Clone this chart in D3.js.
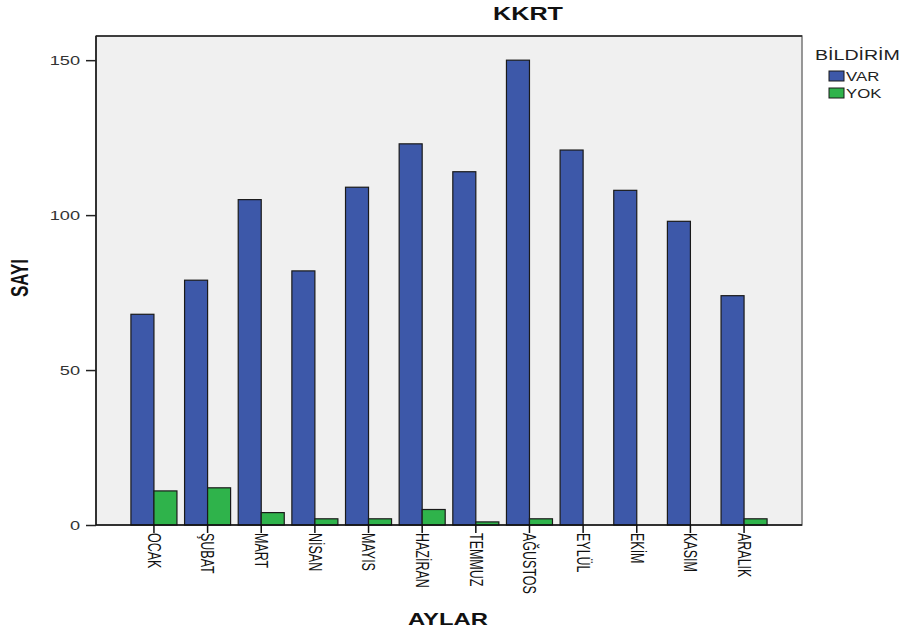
<!DOCTYPE html>
<html>
<head>
<meta charset="utf-8">
<script src="https://cdn.jsdelivr.net/npm/d3@7"></script>
<style>
  html, body { margin: 0; padding: 0; background: #ffffff; }
  svg { display: block; font-family: "Liberation Sans", Arial, sans-serif; }
</style>
</head>
<body>
<svg id="chart" width="911" height="635"></svg>
<script>
// Monthly counts for KKRT, split by BİLDİRİM (VAR / YOK)
const months = ["OCAK", "ŞUBAT", "MART", "NİSAN", "MAYIS", "HAZİRAN",
                "TEMMUZ", "AĞUSTOS", "EYLÜL", "EKİM", "KASIM", "ARALIK"];
const seriesNames = ["VAR", "YOK"];
const varValues = [68, 79, 105, 82, 109, 123, 114, 150, 121, 108, 98, 74];
const yokValues = [11, 12, 4, 2, 2, 5, 1, 2, 0, 0, 0, 2];
const yTicks = [0, 50, 100, 150];
const colors = { VAR: "#3d58a9", YOK: "#2fb34b" };

const rows = months.map((m, i) => ({ month: m, VAR: varValues[i], YOK: yokValues[i] }));

const svg = d3.select("#chart");
const plot = { left: 96, right: 802, top: 36, bottom: 525 };
const SX = 1.4; // horizontal text stretch

const x = d3.scaleBand()
  .domain(months)
  .range([plot.left, plot.right])
  .paddingInner(0.142)
  .paddingOuter(0.651);

const xSub = d3.scaleBand()
  .domain(seriesNames)
  .range([0, x.bandwidth()]);

const y = d3.scaleLinear()
  .domain([0, 157.8])
  .range([plot.bottom, plot.top]);

// plot background
svg.append("rect")
  .attr("x", plot.left).attr("y", plot.top)
  .attr("width", plot.right - plot.left)
  .attr("height", plot.bottom - plot.top)
  .attr("fill", "#f0f0f0")
  .attr("stroke", "#777")
  .attr("stroke-width", 1.5);

// bars
const groups = svg.append("g").selectAll("g")
  .data(rows)
  .join("g")
  .attr("transform", d => `translate(${x(d.month)},0)`);

groups.selectAll("rect")
  .data(d => seriesNames.map(s => ({ key: s, value: d[s] })).filter(e => e.value > 0))
  .join("rect")
  .attr("x", e => xSub(e.key))
  .attr("y", e => y(e.value))
  .attr("width", xSub.bandwidth())
  .attr("height", e => y(0) - y(e.value))
  .attr("fill", e => colors[e.key])
  .attr("stroke", "#1a1a1a")
  .attr("stroke-width", 1.2);

// left, bottom and top frame lines
svg.append("line")
  .attr("x1", plot.left).attr("x2", plot.left)
  .attr("y1", plot.top).attr("y2", plot.bottom)
  .attr("stroke", "#111").attr("stroke-width", 1.5);
svg.append("line")
  .attr("x1", plot.left).attr("x2", plot.right)
  .attr("y1", plot.bottom).attr("y2", plot.bottom)
  .attr("stroke", "#111").attr("stroke-width", 1.5);
svg.append("line")
  .attr("x1", plot.left).attr("x2", plot.right)
  .attr("y1", plot.top).attr("y2", plot.top)
  .attr("stroke", "#222").attr("stroke-width", 1.5);

// y axis
const yAxis = d3.axisLeft(y).tickValues(yTicks).tickSize(10).tickFormat("");
const yG = svg.append("g")
  .attr("transform", `translate(${plot.left},0)`)
  .call(yAxis);
yG.select(".domain").remove();
yG.selectAll(".tick line").attr("stroke", "#222").attr("stroke-width", 1.5);
yG.selectAll(".tick")
  .append("text")
  .attr("transform", `translate(-16,0) scale(${SX},1)`)
  .attr("text-anchor", "end")
  .attr("dy", "0.35em")
  .attr("fill", "#333")
  .attr("font-size", 13)
  .text(d => d);

// x axis
const xAxis = d3.axisBottom(x).tickSize(8).tickFormat("");
const xG = svg.append("g")
  .attr("transform", `translate(0,${plot.bottom})`)
  .call(xAxis);
xG.select(".domain").remove();
xG.selectAll(".tick line").attr("stroke", "#111").attr("stroke-width", 1.5);
xG.selectAll(".tick")
  .append("text")
  .attr("transform", `translate(0,8) scale(${SX},1) rotate(90)`)
  .attr("text-anchor", "start")
  .attr("dy", "0.35em")
  .attr("fill", "#111")
  .attr("font-size", 12.5)
  .text(d => d);

// title
svg.append("text")
  .attr("transform", `translate(528,20) scale(${SX},1)`)
  .attr("text-anchor", "middle")
  .attr("font-weight", "bold")
  .attr("font-size", 18)
  .attr("fill", "#111")
  .text("KKRT");

// axis titles
svg.append("text")
  .attr("transform", `translate(448,625) scale(${SX},1)`)
  .attr("text-anchor", "middle")
  .attr("font-weight", "bold")
  .attr("font-size", 17)
  .attr("fill", "#111")
  .text("AYLAR");

svg.append("text")
  .attr("transform", `translate(28,278) scale(${SX},1) rotate(-90)`)
  .attr("text-anchor", "middle")
  .attr("font-weight", "bold")
  .attr("font-size", 17)
  .attr("fill", "#111")
  .text("SAYI");

// legend
const legend = svg.append("g");
legend.append("text")
  .attr("transform", `translate(815,60) scale(${SX},1)`)
  .attr("font-size", 14)
  .attr("fill", "#222")
  .text("BİLDİRİM");

const legendItems = legend.selectAll("g.item")
  .data(seriesNames)
  .join("g")
  .attr("class", "item")
  .attr("transform", (d, i) => `translate(829,${71 + i * 17})`);
legendItems.append("rect")
  .attr("width", 15).attr("height", 10)
  .attr("fill", d => colors[d])
  .attr("stroke", "#1a1a1a")
  .attr("stroke-width", 1);
legendItems.append("text")
  .attr("transform", `translate(17,10) scale(${SX},1)`)
  .attr("font-size", 12)
  .attr("fill", "#222")
  .text(d => d);
</script>
</body>
</html>
